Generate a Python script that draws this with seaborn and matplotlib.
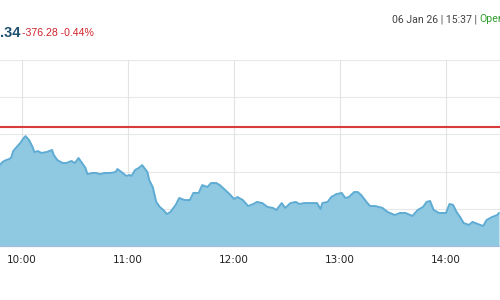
import matplotlib
matplotlib.use("Agg")
import matplotlib.pyplot as plt
import seaborn as sns
import pandas as pd

# ---- data ----
times = ["9:47", "9:49", "9:51", "9:53", "9:54", "9:55", "9:57", "9:59", "10:01", "10:02",
         "10:04", "10:06", "10:07", "10:09", "10:11", "10:14", "10:17", "10:18", "10:20", "10:23",
         "10:25", "10:28", "10:30", "10:32", "10:34", "10:36", "10:37", "10:40", "10:42", "10:44",
         "10:47", "10:50", "10:53", "10:54", "10:57", "10:59", "11:01", "11:02", "11:04", "11:06",
         "11:08", "11:11", "11:12", "11:14", "11:16", "11:18", "11:20", "11:22", "11:24", "11:27",
         "11:29", "11:32", "11:35", "11:37", "11:40", "11:42", "11:45", "11:47", "11:50", "11:52",
         "11:55", "11:58", "12:00", "12:02", "12:05", "12:08", "12:11", "12:13", "12:16", "12:19",
         "12:22", "12:24", "12:27", "12:29", "12:32", "12:35", "12:37", "12:40", "12:44", "12:47",
         "12:49", "12:50", "12:53", "12:55", "12:58", "13:01", "13:03", "13:05", "13:08", "13:10",
         "13:12", "13:15", "13:17", "13:20", "13:24", "13:27", "13:31", "13:34", "13:37", "13:41",
         "13:44", "13:47", "13:49", "13:51", "13:53", "13:56", "14:00", "14:02", "14:04", "14:06",
         "14:08", "14:10", "14:13", "14:15", "14:18", "14:21", "14:23", "14:26", "14:29", "14:30"]
values = [85231, 85253, 85263, 85269, 85279, 85311, 85333, 85354, 85381, 85391,
          85370, 85333, 85306, 85311, 85301, 85306, 85317, 85290, 85263, 85247,
          85247, 85258, 85247, 85274, 85247, 85220, 85188, 85194, 85194, 85188,
          85194, 85194, 85199, 85215, 85194, 85178, 85183, 85178, 85210, 85220,
          85236, 85199, 85156, 85119, 85039, 85012, 84996, 84974, 84985, 85023,
          85060, 85049, 85049, 85087, 85087, 85129, 85119, 85140, 85140, 85129,
          85103, 85076, 85055, 85065, 85049, 85017, 85028, 85039, 85033, 85012,
          85007, 84996, 85033, 85007, 85033, 85039, 85028, 85033, 85033, 85033,
          85001, 85033, 85039, 85065, 85081, 85087, 85060, 85065, 85092, 85092,
          85076, 85039, 85017, 85017, 85007, 84985, 84969, 84980, 84980, 84964,
          84996, 85012, 85039, 85044, 84996, 84980, 84980, 85028, 85023, 84985,
          84958, 84926, 84916, 84932, 84921, 84910, 84942, 84958, 84969, 84980]
prev_close = 85439.62
hour_ticks = ["10:00", "11:00", "12:00", "13:00", "14:00"]
y_grid = [84800, 85000, 85200, 85400, 85600, 85800]
price_tail = ".34"
change_text = "-376.28 -0.44%"
stamp_text = "06 Jan 26 | 15:37 | "
status_text = "Open"


def to_min(s):
    h, m = s.split(":")
    return int(h) * 60 + int(m)


df = pd.DataFrame({"t": [to_min(s) for s in times], "v": values})
tick_pos = [to_min(s) for s in hour_ticks]

sns.set_style("white")
W, H = 500, 300
fig = plt.figure(figsize=(5, 3), dpi=100)
top_px, bot_px = 59.7, 246.6
ax = fig.add_axes([0, 1 - bot_px / H, 1, (bot_px - top_px) / H])

fill_c = "#8FC8E1"
line_c = "#5EABD3"

ax.fill_between(df["t"], df["v"], y_grid[0], color=fill_c, lw=0, zorder=2)
sns.lineplot(data=df, x="t", y="v", ax=ax, color=line_c, lw=1.4, zorder=3)

ax.set_xlim(600 - 22 / 106 * 60, 600 + (500 - 22) / 106 * 60)
ax.set_ylim(y_grid[0], y_grid[-1])

for y in y_grid[1:]:
    ax.axhline(y, color="#E8E8E8", lw=0.8, zorder=1)
for x in tick_pos:
    ax.axvline(x, color="#E3E3E3", lw=0.8, zorder=1)
ax.axhline(prev_close, color="#D93A3A", lw=1.5, zorder=4)
ax.axhline(y_grid[0], color="#A6BCE0", lw=1.6, zorder=4)

ax.set_xticks(tick_pos)
ax.set_xticklabels(hour_ticks, fontsize=7.5, color="#222222", family="DejaVu Sans")
ax.tick_params(axis="x", length=0, pad=6)
ax.set_yticks([])
ax.set_xlabel("")
ax.set_ylabel("")
for s in ax.spines.values():
    s.set_visible(False)

# header texts
fig.text(0 / W, 1 - 33 / H, price_tail, fontsize=10.5, fontweight="bold",
         color="#1E4F6E", family="Liberation Sans", va="center", ha="left")
fig.text(22 / W, 1 - 33.5 / H, change_text, fontsize=7.6,
         color="#D0242C", family="Liberation Sans", va="center", ha="left")
t1 = fig.text(392 / W, 1 - 19 / H, stamp_text, fontsize=7.6,
              color="#444444", family="Roboto", va="center", ha="left")
fig.canvas.draw()
bb = t1.get_window_extent()
fig.text(bb.x1 / W, 1 - 19 / H, status_text, fontsize=7.6,
         color="#2E9E2E", family="Roboto", va="center", ha="left")

fig.savefig("out.png", dpi=100)
